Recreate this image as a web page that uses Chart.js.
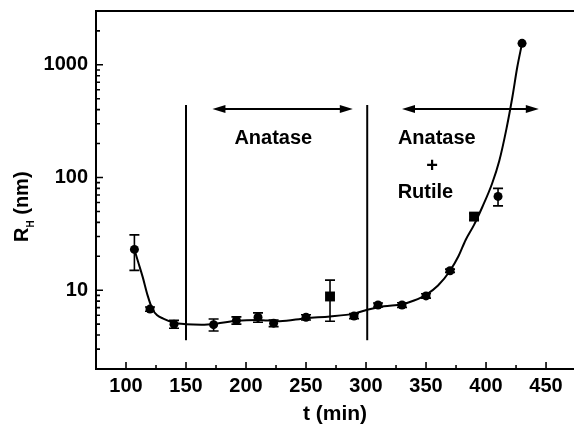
<!DOCTYPE html>
<html>
<head>
<meta charset="utf-8">
<script src="https://cdn.jsdelivr.net/npm/chart.js@4.4.1/dist/chart.umd.min.js"></script>
<style>
  html, body { margin: 0; padding: 0; background: #fff; overflow: hidden; }
  #c { display: block; }
</style>
</head>
<body>
<canvas id="c" width="574" height="433"></canvas>
<script>
// Measured hydrodynamic radius vs. annealing time
const times  = [107, 120, 140, 173, 192, 210, 223, 250, 270, 290, 310, 330, 350, 370, 390, 410, 430];
const radii  = [23, 6.8, 5.0, 4.95, 5.4, 5.75, 5.1, 5.75, 8.8, 5.9, 7.4, 7.4, 8.9, 14.9, 45, 68, 1550];
const errors = [8, 0.3, 0.4, 0.6, 0.4, 0.55, 0.35, 0.3, 3.5, 0.3, 0.3, 0.35, 0.4, 0.5, 3, 12, 0];

// Guide-to-the-eye curve through the measurements
const curveT = [107, 110, 114, 118, 122, 126, 131, 140, 150, 163, 175, 192, 210, 228, 250, 270, 290, 301, 315, 330, 340, 350, 360, 370, 377, 383, 390, 397, 405, 411, 417, 422, 426, 430];
const curveR = [23, 18, 13, 9, 6.8, 6.0, 5.6, 5.15, 5.0, 4.95, 5.05, 5.35, 5.45, 5.3, 5.65, 5.85, 6.2, 6.7, 7.2, 7.5, 8.1, 9.1, 11, 14.9, 20, 27.9, 38, 55, 88, 140, 270, 520, 950, 1550];

// Axis ticks
const xTickLabels = [100, 150, 200, 250, 300, 350, 400, 450];
const yTickLabels = [10, 100, 1000];

// Phase boundaries and phase labels
const phaseBounds = [150, 301];
const phaseArrows = [[172, 289], [330, 444]];
const phaseTexts  = [
  { t: 222.75, r: 220, text: 'Anatase' },
  { t: 359,    r: 220, text: 'Anatase' },
  { t: 355,    r: 124, text: '+' },
  { t: 349.5,  r: 73,  text: 'Rutile' }
];

const squareAt = [270, 390];
const FONT = '"Liberation Sans", Arial, Helvetica, sans-serif';

const points = times.map((t, i) => ({ x: t, y: radii[i] }));
const curve  = curveT.map((t, i) => ({ x: t, y: curveR[i] }));

const decorations = {
  id: 'decorations',
  afterDatasetsDraw(chart) {
    const ctx = chart.ctx;
    const xs = chart.scales.x, ys = chart.scales.y;
    const a = chart.chartArea;
    ctx.save();
    ctx.strokeStyle = '#000';
    ctx.fillStyle = '#000';
    ctx.lineCap = 'butt';

    // error bars
    ctx.lineWidth = 1.6;
    times.forEach((t, i) => {
      if (!errors[i]) return;
      const px = xs.getPixelForValue(t);
      const top = ys.getPixelForValue(radii[i] + errors[i]);
      const bot = ys.getPixelForValue(radii[i] - errors[i]);
      ctx.beginPath();
      ctx.moveTo(px, top); ctx.lineTo(px, bot);
      ctx.moveTo(px - 5, top); ctx.lineTo(px + 5, top);
      ctx.moveTo(px - 5, bot); ctx.lineTo(px + 5, bot);
      ctx.stroke();
    });

    // phase boundaries
    ctx.lineWidth = 2;
    phaseBounds.forEach(t => {
      const px = xs.getPixelForValue(t);
      ctx.beginPath();
      ctx.moveTo(px, ys.getPixelForValue(440));
      ctx.lineTo(px, ys.getPixelForValue(3.6));
      ctx.stroke();
    });

    // double arrows
    phaseArrows.forEach(([t0, t1]) => {
      const x0 = xs.getPixelForValue(t0), x1 = xs.getPixelForValue(t1);
      const y = ys.getPixelForValue(405);
      const L = 13, W = 4;
      ctx.lineWidth = 2;
      ctx.beginPath();
      ctx.moveTo(x0 + L - 2, y); ctx.lineTo(x1 - L + 2, y);
      ctx.stroke();
      ctx.beginPath();
      ctx.moveTo(x0, y); ctx.lineTo(x0 + L, y - W); ctx.lineTo(x0 + L, y + W); ctx.closePath();
      ctx.fill();
      ctx.beginPath();
      ctx.moveTo(x1, y); ctx.lineTo(x1 - L, y - W); ctx.lineTo(x1 - L, y + W); ctx.closePath();
      ctx.fill();
    });

    // phase labels
    ctx.font = 'bold 20px ' + FONT;
    ctx.textAlign = 'center';
    ctx.textBaseline = 'middle';
    phaseTexts.forEach(p => {
      ctx.fillText(p.text, xs.getPixelForValue(p.t), ys.getPixelForValue(p.r));
    });

    // frame (left, bottom, top)
    ctx.lineWidth = 2;
    ctx.beginPath();
    ctx.moveTo(a.right + 2, a.top);
    ctx.lineTo(a.left, a.top);
    ctx.lineTo(a.left, a.bottom);
    ctx.lineTo(a.right + 2, a.bottom);
    ctx.stroke();

    // inward tick marks
    ctx.lineWidth = 1.6;
    ctx.beginPath();
    for (let v = 100; v <= 450; v += 25) {
      const px = xs.getPixelForValue(v);
      const len = (v % 50 === 0) ? 7 : 4;
      ctx.moveTo(px, a.bottom); ctx.lineTo(px, a.bottom - len);
    }
    for (let dec = 1; dec <= 1000; dec *= 10) {
      for (let m = 1; m <= 9; m++) {
        const v = m * dec;
        if (v < 2 || v >= 3000) continue;
        const py = ys.getPixelForValue(v);
        const len = (m === 1) ? 7 : 4;
        ctx.moveTo(a.left, py); ctx.lineTo(a.left + len, py);
      }
    }
    ctx.stroke();

    // tick labels
    ctx.font = 'bold 20px ' + FONT;
    ctx.textBaseline = 'middle';
    ctx.textAlign = 'center';
    xTickLabels.forEach(v => ctx.fillText(String(v), xs.getPixelForValue(v), a.bottom + 17));
    ctx.textAlign = 'right';
    yTickLabels.forEach(v => ctx.fillText(String(v), a.left - 8, ys.getPixelForValue(v)));

    // axis titles
    ctx.font = 'bold 21px ' + FONT;
    ctx.textAlign = 'center';
    ctx.textBaseline = 'alphabetic';
    ctx.fillText('t (min)', 335, 420);

    ctx.save();
    ctx.translate(28, 242);
    ctx.rotate(-Math.PI / 2);
    ctx.textAlign = 'left';
    ctx.font = 'bold 20px ' + FONT;
    ctx.fillText('R', 0, 0);
    const wR = ctx.measureText('R').width;
    ctx.font = 'bold 10px ' + FONT;
    ctx.fillText('H', wR, 6);
    const wH = ctx.measureText('H').width;
    ctx.font = 'bold 20px ' + FONT;
    ctx.fillText(' (nm)', wR + wH, 0);
    ctx.restore();

    ctx.restore();
  }
};

new Chart(document.getElementById('c'), {
  type: 'scatter',
  data: {
    datasets: [
      {
        type: 'line',
        data: curve,
        borderColor: '#000',
        borderWidth: 2,
        pointRadius: 0,
        cubicInterpolationMode: 'monotone',
        fill: false
      },
      {
        data: points,
        showLine: false,
        backgroundColor: '#000',
        borderColor: '#000',
        borderWidth: 0,
        pointStyle: times.map(t => squareAt.includes(t) ? 'rect' : 'circle'),
        pointRadius: times.map(t => squareAt.includes(t) ? 7 : 4.5)
      }
    ]
  },
  options: {
    responsive: false,
    animation: false,
    layout: { autoPadding: false, padding: { top: 11, right: 0, left: 0, bottom: 0 } },
    plugins: { legend: { display: false }, tooltip: { enabled: false } },
    scales: {
      x: {
        type: 'linear',
        min: 75,
        max: 473.3,
        border: { display: false },
        grid: { display: false, drawTicks: false },
        afterBuildTicks: s => { s.ticks = xTickLabels.map(v => ({ value: v })); },
        afterFit: s => { s.height = 64; },
        ticks: { display: false }
      },
      y: {
        type: 'logarithmic',
        min: 2,
        max: 3000,
        border: { display: false },
        grid: { display: false, drawTicks: false },
        afterBuildTicks: s => { s.ticks = yTickLabels.map(v => ({ value: v })); },
        afterFit: s => { s.width = 96; },
        ticks: { display: false }
      }
    }
  },
  plugins: [decorations]
});
</script>
</body>
</html>
